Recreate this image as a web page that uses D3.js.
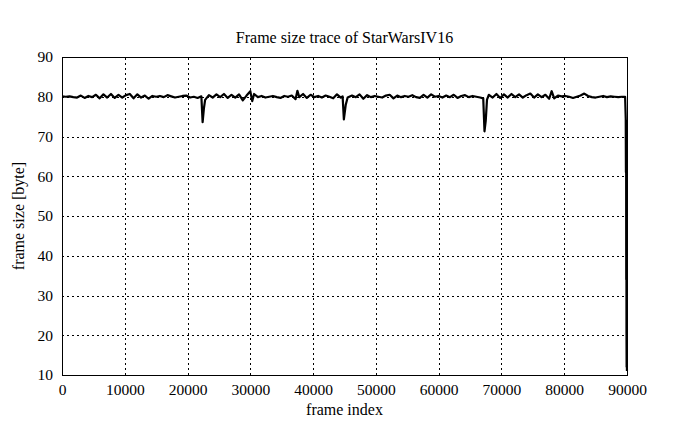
<!DOCTYPE html>
<html>
<head>
<meta charset="utf-8">
<script src="https://cdn.jsdelivr.net/npm/d3@7/dist/d3.min.js"></script>
<style>
  html, body { margin: 0; padding: 0; background: #fff; }
  svg { display: block; }
  text { font-family: "Liberation Serif", "Times New Roman", serif; fill: #000; }
</style>
</head>
<body>
<svg id="chart" width="695" height="429"></svg>
<script>
const title = "Frame size trace of StarWarsIV16";
const xLabel = "frame index";
const yLabel = "frame size [byte]";
const xTicks = [0, 10000, 20000, 30000, 40000, 50000, 60000, 70000, 80000, 90000];
const yTicks = [10, 20, 30, 40, 50, 60, 70, 80, 90];

const frames = [
  0, 600, 1200, 1800, 2400, 3000, 3600, 4200, 4800, 5400, 6000, 6600, 7200, 7800, 8400, 9000, 9600,
  10200, 10800, 11400, 12000, 12600, 13200, 13800, 14400, 15000, 15600, 16200, 16800, 17400, 18000, 18600, 19200, 19800,
  20400, 21000, 21600, 22200, 22400, 22600, 22800, 23400, 24000, 24600, 25200, 25800, 26400, 27000, 27600, 28200, 28800, 29400,
  30000, 30300, 30600, 31200, 31800, 32400, 33000, 33600, 34200, 34800, 35400, 36000, 36600, 37200, 37500, 37800, 38400, 39000, 39600,
  40200, 40800, 41400, 42000, 42600, 43200, 43800, 44400, 44700, 44900, 45200, 45500, 46200, 46800, 47400, 48000, 48600, 49200, 49800,
  50400, 51000, 51600, 52200, 52800, 53400, 54000, 54600, 55200, 55800, 56400, 57000, 57600, 58200, 58800, 59400,
  60000, 60600, 61200, 61800, 62400, 63000, 63600, 64200, 64800, 65400, 66000, 66600, 67100, 67300, 67500, 67700, 68000, 68600, 69200, 69800,
  70400, 71000, 71600, 72200, 72800, 73400, 74000, 74600, 75200, 75800, 76400, 77000, 77600, 78000, 78400, 79000, 79600,
  80200, 80800, 81400, 82000, 82600, 83200, 83800, 84400, 85000, 85600, 86200, 86800, 87400, 88000, 88600, 89200, 89700,
  89800, 89830, 89860, 89880, 89900, 89920, 89940, 89960, 89990
];
const sizes = [
  80.1, 80.0, 80.1, 79.9, 79.8, 80.3, 79.7, 80.2, 79.9, 80.5, 79.6, 80.6, 79.8, 80.7, 79.7, 80.5, 79.8,
  80.4, 80.7, 79.6, 80.6, 79.8, 80.3, 79.5, 80.2, 80.0, 80.2, 79.9, 80.4, 80.1, 79.8, 80.0, 80.2, 80.3,
  79.8, 80.0, 79.7, 80.1, 73.6, 77.0, 79.2, 80.4, 79.8, 80.6, 79.9, 80.7, 79.7, 80.5, 79.8, 80.6, 79.1, 80.3,
  81.4, 78.9, 80.7, 79.9, 80.2, 79.8, 80.0, 80.2, 79.9, 79.7, 80.2, 80.0, 80.3, 79.4, 81.5, 79.9, 80.7, 79.7, 80.5,
  79.9, 80.2, 79.8, 80.3, 80.0, 79.6, 80.6, 79.8, 80.1, 74.3, 78.0, 79.8, 80.3, 79.9, 80.6, 79.5, 80.4, 79.9, 80.2,
  80.0, 79.8, 80.3, 80.5, 79.6, 80.3, 79.9, 80.2, 80.0, 80.4, 79.9, 79.7, 80.5, 79.8, 80.6, 80.0,
  80.2, 79.8, 80.3, 79.9, 80.5, 79.7, 80.2, 80.4, 79.9, 80.2, 80.0, 79.8, 79.6, 71.3, 74.0, 79.3, 80.5, 79.8, 80.7, 79.7,
  80.6, 79.8, 80.7, 79.9, 80.6, 79.8, 80.4, 80.8, 79.8, 80.6, 79.9, 80.5, 79.5, 81.4, 79.6, 80.3, 80.1,
  80.2, 80.0, 79.7, 80.0, 80.3, 80.8, 80.2, 79.9, 79.8, 80.0, 80.2, 79.9, 80.1, 80.0, 79.9, 80.0, 80.0,
  74.5, 61.0, 74.0, 34.0, 62.0, 20.5, 12.0, 20.0, 11.0
];

const svg = d3.select("#chart");
const W = 695, H = 429;
const m = { left: 62, right: 68, top: 57, bottom: 54 };
const x0 = m.left, x1 = W - m.right, y0 = H - m.bottom, y1 = m.top;

svg.append("rect").attr("width", W).attr("height", H).attr("fill", "#fff");

const x = d3.scaleLinear().domain([0, 90000]).range([x0, x1]);
const y = d3.scaleLinear().domain([10, 90]).range([y0, y1]);

// grid
const grid = svg.append("g");
grid.selectAll("line.gx").data(xTicks.slice(1, -1)).join("line")
  .attr("x1", d => Math.round(x(d)) + 0.5).attr("x2", d => Math.round(x(d)) + 0.5)
  .attr("y1", y0).attr("y2", y1)
  .attr("stroke", "#000").attr("stroke-width", 1).attr("stroke-dasharray", "2,3");
grid.selectAll("line.gy").data(yTicks.slice(1, -1)).join("line")
  .attr("y1", d => Math.round(y(d)) + 0.5).attr("y2", d => Math.round(y(d)) + 0.5)
  .attr("x1", x0).attr("x2", x1)
  .attr("stroke", "#000").attr("stroke-width", 1).attr("stroke-dasharray", "2,3");

// axes (labels only)
const xAxis = d3.axisBottom(x).tickValues(xTicks).tickSize(0).tickPadding(9).tickFormat(d3.format("d"));
const yAxis = d3.axisLeft(y).tickValues(yTicks).tickSize(0).tickPadding(9).tickFormat(d3.format("d"));
const gx = svg.append("g").attr("transform", `translate(0,${y0})`).call(xAxis);
const gy = svg.append("g").attr("transform", `translate(${x0},0)`).call(yAxis);
[gx, gy].forEach(g => {
  g.select(".domain").remove();
  g.selectAll("text").style("font-family", '"Liberation Serif", serif').style("font-size", "15.5px").attr("fill", "#000");
});

// line
const line = d3.line().x((d, i) => x(frames[i])).y(d => y(d));
svg.append("path").datum(sizes)
  .attr("d", line)
  .attr("fill", "none").attr("stroke", "#000").attr("stroke-width", 2.2).attr("stroke-linejoin", "round");

// frame
svg.append("rect").attr("x", x0 + 0.5).attr("y", y1 + 0.5)
  .attr("width", x1 - x0).attr("height", y0 - y1)
  .attr("fill", "none").attr("stroke", "#000").attr("stroke-width", 1);

// titles
svg.append("text").attr("x", (x0 + x1) / 2).attr("y", 43).attr("text-anchor", "middle")
  .style("font-size", "16px").text(title);
svg.append("text").attr("x", (x0 + x1) / 2).attr("y", 415).attr("text-anchor", "middle")
  .style("font-size", "16px").text(xLabel);
svg.append("text").attr("transform", `translate(24,${(y0 + y1) / 2}) rotate(-90)`).attr("text-anchor", "middle")
  .style("font-size", "16px").text(yLabel);
</script>
</body>
</html>
